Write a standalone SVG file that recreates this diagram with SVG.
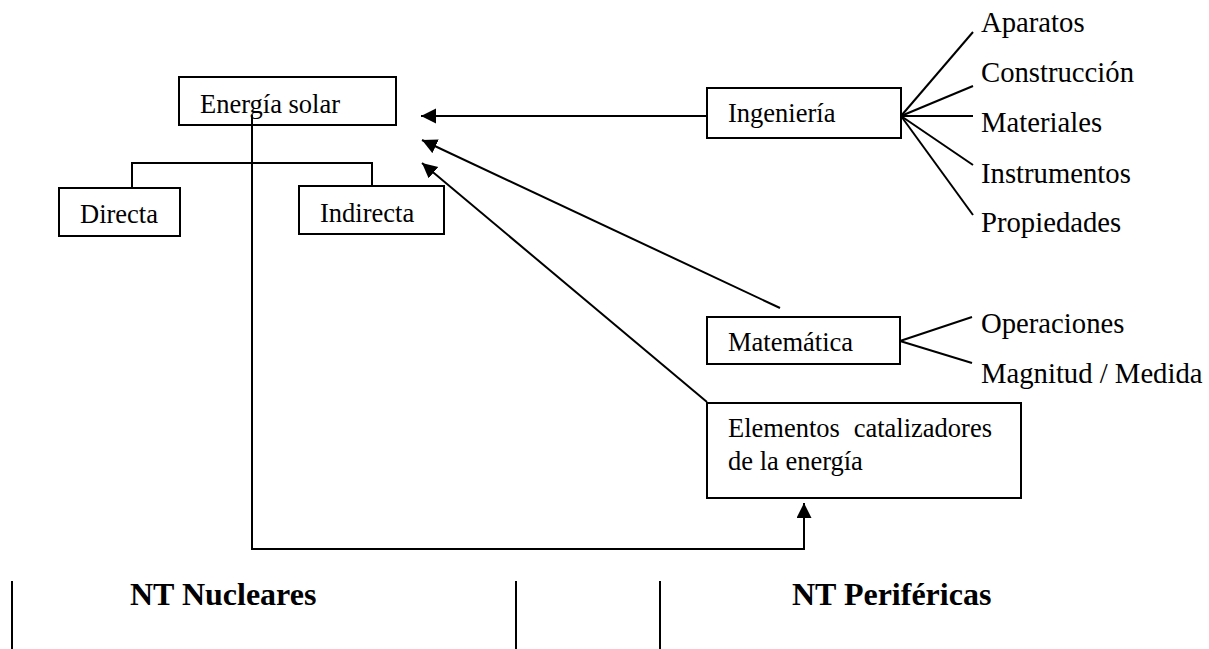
<svg xmlns="http://www.w3.org/2000/svg" width="1209" height="649" viewBox="0 0 1209 649">
<style>
.box{fill:#fff;stroke:#000;stroke-width:2}
.ln{fill:none;stroke:#000;stroke-width:2}
.t{font-family:"Liberation Serif","Times New Roman",serif;font-size:26.5px;fill:#000}
.r{font-family:"Liberation Serif","Times New Roman",serif;font-size:28.7px;fill:#000}
.b{font-family:"Liberation Serif","Times New Roman",serif;font-size:32px;font-weight:bold;fill:#000}
</style>
<defs>
<marker id="ah" markerWidth="16" markerHeight="16" refX="15" refY="7.5" orient="auto" markerUnits="userSpaceOnUse">
<path d="M0,0 L15,7.5 L0,15 Z" fill="#000"/>
</marker>
</defs>
<rect width="1209" height="649" fill="#fff"/>
<g id="energia-solar">
<rect class="box" x="179" y="77" width="217" height="48"/>
<text class="t" x="200" y="113">Energía solar</text>
</g>
<g id="directa">
<rect class="box" x="59" y="188" width="121" height="48"/>
<text class="t" x="80" y="223">Directa</text>
</g>
<g id="indirecta">
<rect class="box" x="299" y="186" width="145" height="48"/>
<text class="t" x="320" y="222">Indirecta</text>
</g>
<g id="ingenieria">
<rect class="box" x="707" y="88" width="194" height="50"/>
<text class="t" x="728" y="122">Ingeniería</text>
</g>
<g id="matematica">
<rect class="box" x="707" y="317" width="193" height="47"/>
<text class="t" x="728" y="351">Matemática</text>
</g>
<g id="elementos">
<rect class="box" x="707" y="403" width="314" height="95"/>
<text class="t" x="728" y="437">Elementos</text>
<text class="t" x="992" y="437" text-anchor="end">catalizadores</text>
<text class="t" x="728" y="470">de la energía</text>
</g>
<g id="connectors">
<polyline class="ln" points="132,188 132,163 372,163 372,186"/>
<line class="ln" x1="707" y1="116" x2="421" y2="116" marker-end="url(#ah)"/>
<line class="ln" x1="780" y1="308" x2="422" y2="140" marker-end="url(#ah)"/>
<line class="ln" x1="707" y1="402" x2="422" y2="163" marker-end="url(#ah)"/>
<polyline class="ln" points="252,115 252,549 804,549 804,503" marker-end="url(#ah)"/>
<line class="ln" x1="901" y1="116" x2="973" y2="32"/>
<line class="ln" x1="901" y1="116" x2="973" y2="86"/>
<line class="ln" x1="901" y1="116" x2="973" y2="116"/>
<line class="ln" x1="901" y1="116" x2="973" y2="165"/>
<line class="ln" x1="901" y1="116" x2="973" y2="215"/>
<line class="ln" x1="900" y1="341" x2="972" y2="317"/>
<line class="ln" x1="900" y1="341" x2="972" y2="363"/>
</g>
<g id="ingenieria-items">
<text class="r" x="981" y="32">Aparatos</text>
<text class="r" x="981" y="82">Construcción</text>
<text class="r" x="981" y="132">Materiales</text>
<text class="r" x="981" y="183">Instrumentos</text>
<text class="r" x="981" y="232">Propiedades</text>
</g>
<g id="matematica-items">
<text class="r" x="981" y="333">Operaciones</text>
<text class="r" x="981" y="383">Magnitud / Medida</text>
</g>
<g id="footer">
<line class="ln" x1="12" y1="581" x2="12" y2="649"/>
<line class="ln" x1="516" y1="581" x2="516" y2="649"/>
<line class="ln" x1="660" y1="581" x2="660" y2="649"/>
<text class="b" x="130" y="605">NT Nucleares</text>
<text class="b" x="792" y="605">NT Periféricas</text>
</g>
</svg>
